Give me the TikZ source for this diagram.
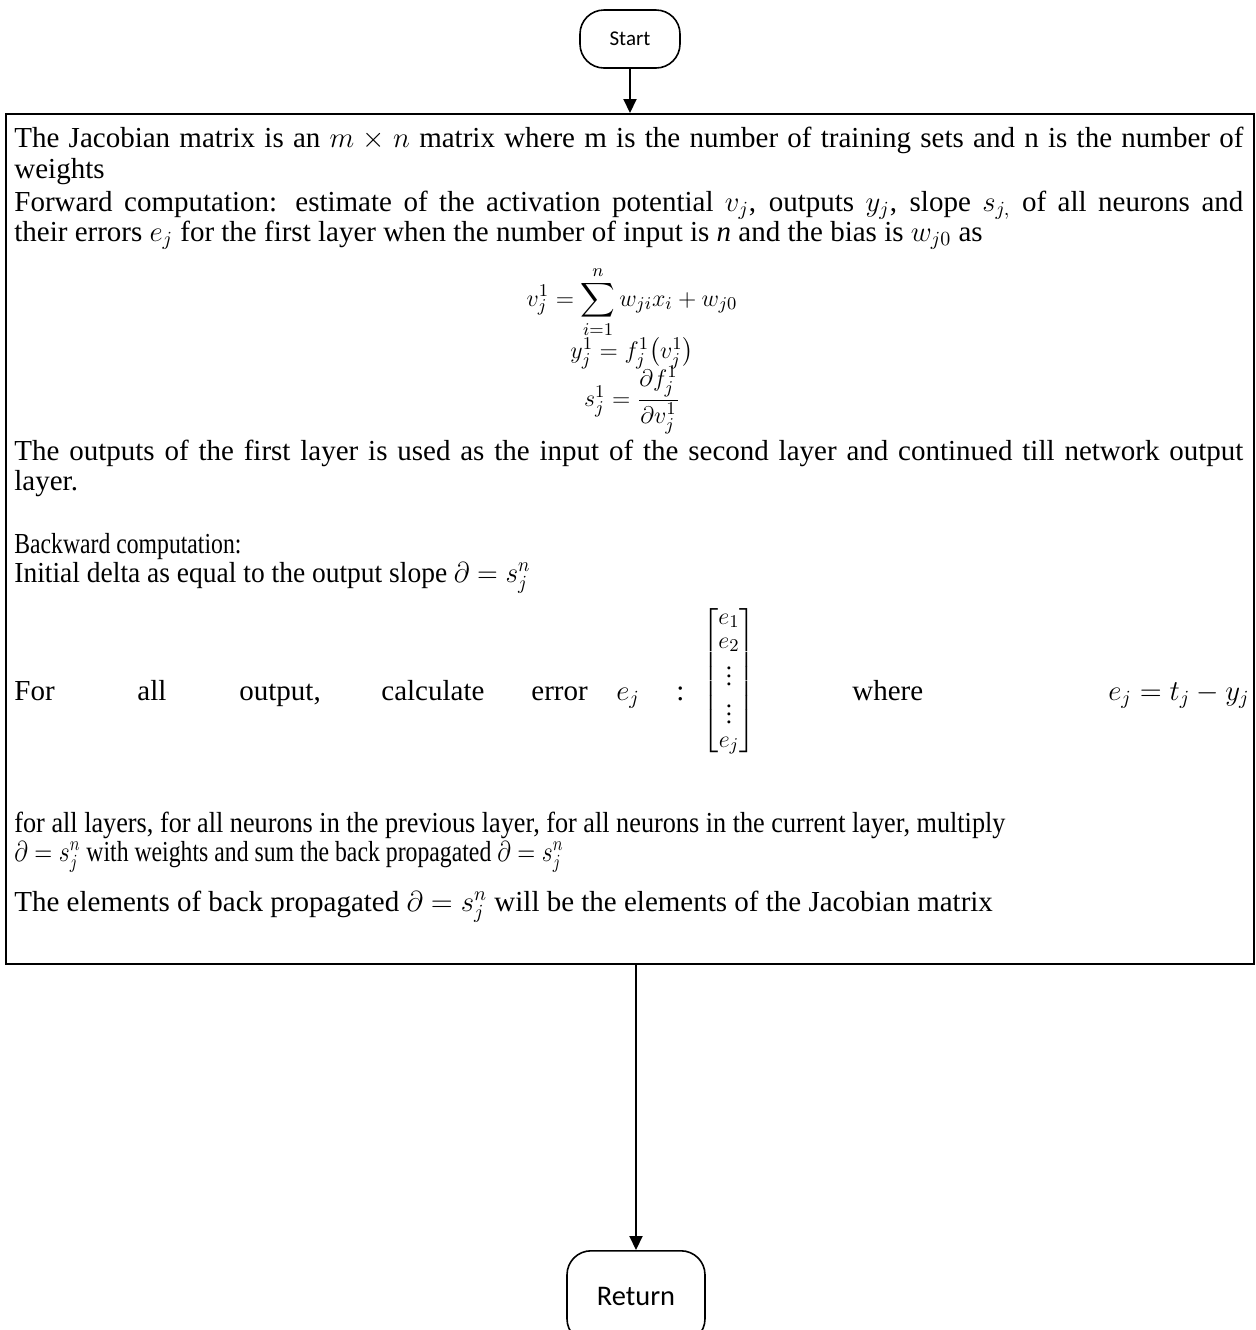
\documentclass[tikz,border=0pt]{standalone}
\usepackage{fontspec}
\setmainfont{Liberation Serif}
\newfontfamily\calib{Carlito}
\usepackage{amsmath}
\usepackage{graphicx}
\usetikzlibrary{arrows.meta}
\newlength\pxu \setlength\pxu{0.5pt}
\newcommand\fitto[2]{\resizebox{#1\pxu}{\height}{#2}}
\begin{document}
\begin{tikzpicture}[x=0.5pt,y=-0.5pt, font=\fontsize{14.5}{17}\selectfont,
  txt/.style={anchor=base west, inner sep=0pt},
  eqn/.style={anchor=base, inner sep=0pt, font=\fontsize{13}{15}\selectfont},
  term/.style={draw, line width=0.8pt, rounded corners=12pt, inner sep=0pt},
  arr/.style={line width=1pt, -{Triangle[length=7pt,width=6.5pt]}}]
\useasboundingbox (0,0) rectangle (1256,1330);
% terminals and main box
\node[term, minimum width=50pt, minimum height=29pt, font=\calib\fontsize{10.5}{12}\selectfont] (start) at (630,39) {Start};
\node[draw, line width=0.75pt, minimum width=624pt, minimum height=425pt, inner sep=0pt, anchor=north west] (main) at (5,113) {};
\node[term, minimum width=69pt, minimum height=46pt, anchor=north, font=\calib\fontsize{14.2}{16}\selectfont] (ret) at (636,1250) {Return};
\draw[arr] (start.south) -- (start.south |- main.north);
\draw[arr] (main.south -| ret.north) -- (ret.north);
% text
\node[txt] (l1) at (14,147) {\makebox[614.5pt][s]{The Jacobian matrix is an $m \times n$ matrix where m is the number of training sets and n is the number of}};
\node[txt] (l2) at (14,178) {weights};
\node[txt] (l3) at (14,211) {\makebox[614.5pt][s]{Forward computation: estimate of the activation potential $v_j$, outputs $y_j$, slope $s_{j,}$ of all neurons and}};
\node[txt] (l4) at (14,241) {their errors $e_j$ for the first layer when the number of input is \textit{n} and the bias is $w_{j0}$ as};
\node[eqn] (eq1) at (632,306) {$\displaystyle v_j^1 = \sum_{i=1}^{n} w_{ji}x_i + w_{j0}$};
\node[eqn] (eq2) at (632,358) {$y_j^1 = f_j^1\bigl(v_j^1\bigr)$};
\node[eqn, font=\fontsize{12.5}{15}\selectfont] (eq3) at (632,406) {$s_j^1 = \dfrac{\partial f_j^1}{\partial v_j^1}$};
\node[txt] (l5) at (14,460) {\makebox[614.5pt][s]{The outputs of the first layer is used as the input of the second layer and continued till network output}};
\node[txt] (l6) at (14,490) {layer.};
\node[txt] (l7) at (14,553) {\fitto{227}{Backward computation:}};
\node[txt] (l8) at (14,582) {\fitto{516}{Initial delta as equal to the output slope $\partial = s_j^n$}};
% for-all line
\node[txt] (f1) at (14,700) {For};
\node[txt] (f2) at (137,700) {all};
\node[txt] (f3) at (239,700) {output,};
\node[txt] (f4) at (381,700) {calculate};
\node[txt] (f5) at (531,700) {error};
\node[txt] (f6) at (616,700) {$e_j$};
\node[txt] (f7) at (676,700) {:};
\node[inner sep=0pt, font=\fontsize{12.5}{14}\selectfont] (mat) at (729,681) {\renewcommand\arraystretch{0.85}$\begin{bmatrix} e_1\\ e_2\\ \vdots\\ \vdots\\ e_j\end{bmatrix}$};
\node[txt] (f8) at (852,700) {where};
\node[anchor=base east, inner sep=0pt] (f9) at (1250,700) {$e_j = t_j - y_j$};
\node[txt] (l9) at (14,832) {\fitto{991}{for all layers, for all neurons in the previous layer, for all neurons in the current layer, multiply}};
\node[txt] (l10) at (14,861) {\fitto{549}{$\partial = s_j^n$ with weights and sum the back propagated $\partial = s_j^n$}};
\node[txt] (l11) at (14,911) {The elements of back propagated $\partial = s_j^n$ will be the elements of the Jacobian matrix};
\end{tikzpicture}
\end{document}
